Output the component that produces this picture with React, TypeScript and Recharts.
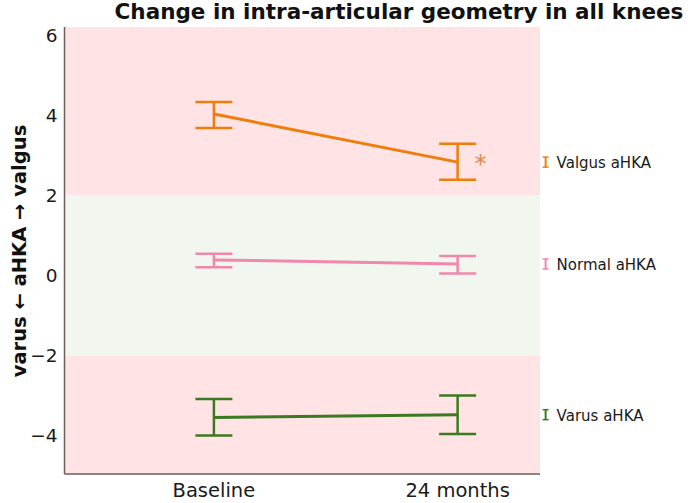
import React from 'react'
import { ComposedChart, Line, ErrorBar, XAxis, YAxis, ReferenceArea, LabelList } from 'recharts'

// time points (x = 0, 1)
const timepoints = ['Baseline', '24 months']
const tIndex = [0, 1]

// group means and [minus, plus] error values
const valgusMean = [4.03, 2.83]
const valgusErr = [[0.35, 0.3], [0.44, 0.46]]
const normalMean = [0.39, 0.29]
const normalErr = [[0.18, 0.155], [0.24, 0.2]]
const varusMean = [-3.54, -3.47]
const varusErr = [[0.45, 0.46], [0.48, 0.48]]

const yTicks = [-4, -2, 0, 2, 4, 6]

const data = tIndex.map((t, i) => ({
  t,
  valgus: valgusMean[i],
  valgusErr: valgusErr[i],
  normal: normalMean[i],
  normalErr: normalErr[i],
  varus: varusMean[i],
  varusErr: varusErr[i],
}))

const FONT = '"DejaVu Sans", sans-serif'

const groups = [
  { key: 'valgus', name: 'Valgus aHKA', color: '#EF7D0C', star: true },
  { key: 'normal', name: 'Normal aHKA', color: '#F087AC', star: false },
  { key: 'varus', name: 'Varus aHKA', color: '#3C7A22', star: false },
]

const endLabel = (name: string, color: string, star: boolean) => (props: any) => {
  const { x, y, index } = props
  if (index !== 1) return <g />
  const ix = x + 88
  return (
    <g>
      {star && (
        <text x={x + 23} y={y + 10} fontSize={24} fill="#E0874C" textAnchor="middle" fontFamily={FONT}>
          *
        </text>
      )}
      <line x1={ix} x2={ix} y1={y - 5} y2={y + 5} stroke={color} strokeWidth={2} />
      <line x1={ix - 3} x2={ix + 3} y1={y - 5} y2={y - 5} stroke={color} strokeWidth={1.5} />
      <line x1={ix - 3} x2={ix + 3} y1={y + 5} y2={y + 5} stroke={color} strokeWidth={1.5} />
      <text x={x + 99} y={y + 6} fontSize={15} fill="#1a1a1a" fontFamily={FONT}>
        {name}
      </text>
    </g>
  )
}

const YLabel = () => (
  <text
    x={19}
    y={251}
    transform="rotate(-90, 19, 251)"
    textAnchor="middle"
    dominantBaseline="central"
    fontSize={19.5}
    fontWeight="bold"
    fill="#111"
    fontFamily={FONT}
  >
    varus ← aHKA → valgus
  </text>
)

export default function App() {
  return (
    <div style={{ position: 'relative', width: 688, height: 503, fontFamily: FONT }}>
      <style>{`body{margin:0}`}</style>
      <div
        style={{
          position: 'absolute',
          left: 113,
          top: 0,
          width: 572,
          textAlign: 'center',
          fontSize: 21.5,
          fontWeight: 'bold',
          color: '#111',
          lineHeight: '24px',
          whiteSpace: 'nowrap',
        }}
      >
        Change in intra-articular geometry in all knees
      </div>
      <ComposedChart
        width={688}
        height={503}
        data={data}
        margin={{ top: 27, right: 148, bottom: 0, left: 0 }}
      >
        <ReferenceArea y1={2} y2={6.2} fill="#FFE3E5" fillOpacity={1} stroke="none" />
        <ReferenceArea y1={-2} y2={2} fill="#F1F7EE" fillOpacity={1} stroke="none" />
        <ReferenceArea y1={-4.95} y2={-2} fill="#FFE3E5" fillOpacity={1} stroke="none" />
        <XAxis
          dataKey="t"
          type="number"
          domain={[-0.613, 1.338]}
          ticks={tIndex}
          allowDataOverflow
          tickFormatter={(v: number) => timepoints[v]}
          tickLine={false}
          axisLine={{ stroke: '#6b5e5e', strokeWidth: 1.5 }}
          tick={{ fontSize: 19.5, fill: '#1a1a1a', fontFamily: FONT }}
          height={29}
          tickMargin={3}
        />
        <YAxis
          type="number"
          domain={[-4.95, 6.2]}
          ticks={yTicks}
          allowDataOverflow
          tickFormatter={(v: number) => String(v).replace('-', '\u2212')}
          tickLine={false}
          axisLine={{ stroke: '#6b5e5e', strokeWidth: 1.5 }}
          tick={{ fontSize: 18.5, fill: '#1a1a1a', fontFamily: FONT }}
          width={64.5}
          tickMargin={1}
          label={<YLabel />}
        />
        {groups.map((g) => (
          <Line
            key={g.key}
            dataKey={g.key}
            stroke={g.color}
            strokeWidth={3}
            dot={false}
            activeDot={false}
            type="linear"
            isAnimationActive={false}
          >
            <ErrorBar
              dataKey={`${g.key}Err`}
              direction="y"
              width={18.5}
              stroke={g.color}
              strokeWidth={2.5}
              isAnimationActive={false}
            />
            <LabelList dataKey={g.key} content={endLabel(g.name, g.color, g.star)} />
          </Line>
        ))}
      </ComposedChart>
    </div>
  )
}
